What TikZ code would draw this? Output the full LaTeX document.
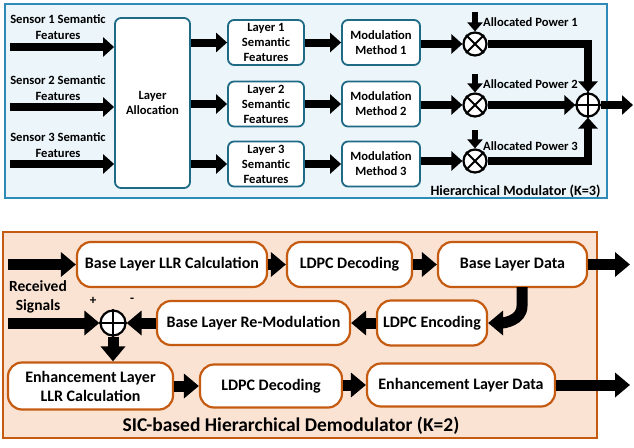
\documentclass[tikz,border=0pt]{standalone}
\usepackage{fontspec}
\setmainfont{Carlito}
\usetikzlibrary{arrows.meta,positioning}
\definecolor{tframe}{HTML}{2E8BB8}
\definecolor{tfill}{HTML}{EBF5FA}
\definecolor{tbox}{HTML}{1F6A85}
\definecolor{bframe}{HTML}{C55A11}
\definecolor{bfill}{HTML}{FBE3D3}
\definecolor{bbox}{HTML}{C55A11}
\tikzset{
  tnode/.style={draw=tbox, line width=1.8pt, fill=white, rounded corners=6pt, align=center,
     font=\fontsize{12.6}{15}\selectfont\bfseries, inner sep=0pt},
  bnode/.style={draw=bbox, line width=2.2pt, fill=white, rounded corners=14pt, align=center,
     font=\fontsize{16}{19}\selectfont\bfseries, inner sep=0pt},
  tlab/.style={align=center, font=\fontsize{12.6}{15.5}\selectfont\bfseries, inner sep=0pt},
  blab/.style={align=center, font=\fontsize{15.5}{19.5}\selectfont\bfseries, inner sep=0pt},
  tarr/.style={line width=8pt, -{Triangle[width=19pt,length=11pt]}},
  barr/.style={line width=11pt, -{Triangle[width=24pt,length=15pt]}},
  sarr/.style={line width=6pt, -{Triangle[width=15pt,length=9pt]}},
  opcirc/.style={circle, draw, line width=2.2pt, fill=white, minimum size=23pt, inner sep=0pt},
}
\begin{document}
\begin{tikzpicture}[x=1pt,y=-1pt]
\useasboundingbox (0,0) rectangle (634,447);
% frames
\draw[tframe, line width=2.5pt, fill=tfill] (5,4) rectangle (607,198);
\draw[bframe, line width=2.5pt, fill=bfill] (3,232) rectangle (597,438);

% ---------- top: hierarchical modulator ----------
\node[tlab] (s1) at (58,27) {Sensor 1 Semantic\\Features};
\node[tlab] (s2) at (58,88) {Sensor 2 Semantic\\Features};
\node[tlab] (s3) at (58,145) {Sensor 3 Semantic\\Features};
\coordinate (i1) at (10,47);
\coordinate (i2) at (10,107);
\coordinate (i3) at (10,164);

\node[tnode, minimum width=75pt, minimum height=170pt] (la) at (152.5,103) {Layer\\Allocation};

\node[tnode, minimum width=76pt, minimum height=45pt] (l1) at (266,42.5) {Layer 1\\Semantic\\Features};
\node[tnode, minimum width=76pt, minimum height=45pt] (l2) at (266,104) {Layer 2\\Semantic\\Features};
\node[tnode, minimum width=76pt, minimum height=45pt] (l3) at (266,164) {Layer 3\\Semantic\\Features};

\node[tnode, minimum width=78pt, minimum height=45pt] (m1) at (381,42.5) {Modulation\\Method 1};
\node[tnode, minimum width=78pt, minimum height=45pt] (m2) at (381,104) {Modulation\\Method 2};
\node[tnode, minimum width=78pt, minimum height=45pt] (m3) at (381,164) {Modulation\\Method 3};

\node[opcirc] (x1) at (475,44) {};
\node[opcirc] (x2) at (475,105) {};
\node[opcirc] (x3) at (475,161) {};
\node[opcirc] (add) at (588,105) {};
\foreach \c in {x1,x2,x3}{
  \draw[line width=2pt] (\c.north east) -- (\c.south west) (\c.north west) -- (\c.south east);
}
\draw[line width=2pt] (add.north) -- (add.south) (add.west) -- (add.east);

\coordinate (p1) at (475,12);
\coordinate (p2) at (475,74);
\coordinate (p3) at (475,130);
\node[tlab, anchor=west] (ap1) at (483,22) {Allocated Power 1};
\node[tlab, anchor=west] (ap2) at (483,84) {Allocated Power 2};
\node[tlab, anchor=west] (ap3) at (483,146) {Allocated Power 3};
\node[font=\fontsize{14.2}{16}\selectfont\bfseries, inner sep=0pt] (hm) at (515.5,191) {Hierarchical Modulator (K=3)};
\coordinate (out1) at (633,105);

\draw[tarr] (i1) -- (i1 -| la.west);
\draw[tarr] (i2) -- (i2 -| la.west);
\draw[tarr] (i3) -- (i3 -| la.west);
\draw[tarr] (l1 -| la.east) -- (l1.west);
\draw[tarr] (l2 -| la.east) -- (l2.west);
\draw[tarr] (l3 -| la.east) -- (l3.west);
\draw[tarr] (l1.east) -- (m1.west);
\draw[tarr] (l2.east) -- (m2.west);
\draw[tarr] (l3.east) -- (m3.west);
\draw[tarr] (x1 -| m1.east) -- (x1.west);
\draw[tarr] (x2 -| m2.east) -- (x2.west);
\draw[tarr] (x3 -| m3.east) -- (x3.west);
\draw[sarr] (p1) -- (x1.north);
\draw[sarr] (p2) -- (x2.north);
\draw[sarr] (p3) -- (x3.north);
\draw[tarr] (x1.east) -| (add.north);
\draw[tarr] (x2.east) -- (add.west);
\draw[tarr] (x3.east) -| (add.south);
\draw[tarr] (add.east) -- (out1);

% ---------- bottom: SIC demodulator ----------
\node[bnode, minimum width=190pt, minimum height=45pt] (bllr) at (172,264.5) {Base Layer LLR Calculation};
\node[bnode, minimum width=125pt, minimum height=45pt] (d1) at (349.5,264.5) {LDPC Decoding};
\node[bnode, minimum width=149pt, minimum height=45pt] (bd) at (512.5,264.5) {Base Layer Data};
\node[bnode, minimum width=193pt, minimum height=44pt] (rm) at (253.5,323) {Base Layer Re-Modulation};
\node[bnode, minimum width=110pt, minimum height=45pt] (enc) at (432,323) {LDPC Encoding};
\node[bnode, minimum width=165pt, minimum height=47pt] (ellr) at (90.5,386) {Enhancement Layer\\LLR Calculation};
\node[bnode, minimum width=142pt, minimum height=43pt] (d2) at (271,386) {LDPC Decoding};
\node[bnode, minimum width=188pt, minimum height=43pt] (ed) at (461,385) {Enhancement Layer Data};
\node[opcirc, minimum size=25pt] (sub) at (113,323) {};
\draw[line width=2pt] (sub.north) -- (sub.south) (sub.west) -- (sub.east);
\node[blab] (rs) at (38,297) {Received\\Signals};
\node[font=\fontsize{13}{13}\selectfont\bfseries, inner sep=0pt] (plus) at (93,301) {+};
\node[font=\fontsize{13}{13}\selectfont\bfseries, inner sep=0pt] (minus) at (132,300) {-};
\node[font=\fontsize{19.5}{22}\selectfont\bfseries, inner sep=0pt] (sic) at (291,426) {SIC-based Hierarchical Demodulator (K=2)};

\coordinate (r1) at (8,264.5);
\coordinate (r2) at (8,323);
\coordinate (o1) at (630,264.5);
\coordinate (o2) at (630,385);
\coordinate (bend) at (522,287);

\draw[barr] (r1) -- (bllr.west);
\draw[barr] (bllr.east) -- (d1.west);
\draw[barr] (d1.east) -- (bd.west);
\draw[barr] (bd.east) -- (o1);
\draw[barr] (bend) -- (522,306) to[out=-90,in=0] (enc.east);
\draw[barr] (enc.west) -- (rm.east);
\draw[barr] (rm.west) -- (sub.east);
\draw[barr] (r2) -- (sub.west);
\draw[barr] (sub.south) -- (ellr.north -| sub);
\draw[barr] (ellr.east |- d2) -- (d2.west);
\draw[barr] (d2.east |- ed) -- (ed.west);
\draw[barr] (ed.east) -- (o2);
\end{tikzpicture}
\end{document}
